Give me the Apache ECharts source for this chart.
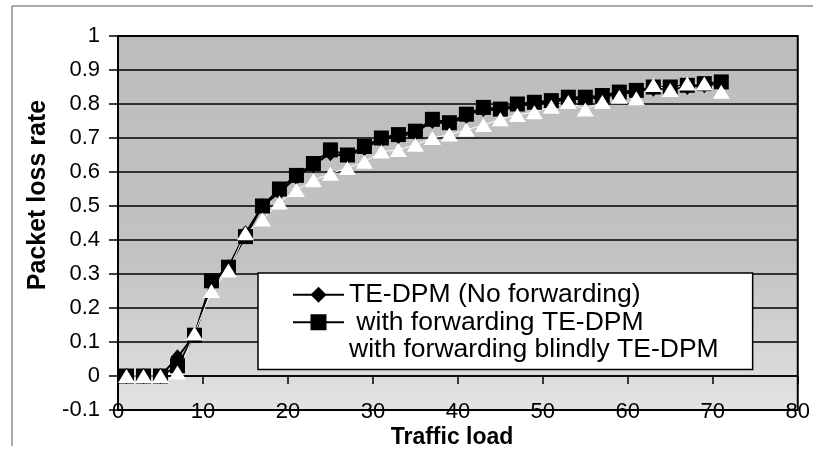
<!DOCTYPE html>
<html><head><meta charset="utf-8">
<script src="https://cdn.jsdelivr.net/npm/echarts@6/dist/echarts.min.js"></script>
<style>html,body{margin:0;padding:0;background:#fff}#c{width:813px;height:459px}</style>
</head><body><div id="c"></div>
<script>
const FONT = '"Liberation Sans", Arial, Helvetica, sans-serif';
const trafficLoad = [1,3,5,7,9,11,13,15,17,19,21,23,25,27,29,31,33,35,37,39,41,43,45,47,49,51,53,55,57,59,61,63,65,67,69,71];
const noForwarding = [0,0,0,0.055,0.12,0.27,0.32,0.42,0.50,0.54,0.585,0.62,0.655,0.645,0.67,0.695,0.705,0.715,0.75,0.74,0.765,0.785,0.78,0.795,0.80,0.805,0.815,0.815,0.82,0.83,0.835,0.845,0.845,0.85,0.855,0.86];
const withForwarding = [0,0,0,0.03,0.12,0.28,0.32,0.41,0.50,0.55,0.59,0.625,0.665,0.65,0.675,0.70,0.71,0.72,0.755,0.745,0.77,0.79,0.785,0.80,0.805,0.81,0.82,0.82,0.825,0.835,0.84,0.85,0.85,0.855,0.86,0.865];
const withForwardingBlindly = [0,0,0,0.01,0.125,0.25,0.31,0.42,0.46,0.51,0.547,0.576,0.595,0.612,0.63,0.66,0.665,0.68,0.70,0.71,0.724,0.738,0.755,0.768,0.776,0.792,0.806,0.784,0.806,0.821,0.817,0.856,0.841,0.86,0.86,0.836];
const seriesNames = ['TE-DPM (No forwarding)', ' with forwarding TE-DPM', 'with forwarding blindly TE-DPM'];
const xTitle = 'Traffic load';
const yTitle = 'Packet loss rate';

const pairs = arr => trafficLoad.map((x, i) => [x, arr[i]]);
const chart = echarts.init(document.getElementById('c'), null, {renderer: 'canvas'});
chart.setOption({
  animation: false,
  backgroundColor: '#fff',
  textStyle: {fontFamily: FONT},
  grid: {
    left: 118, right: 9, top: 36, bottom: 49, show: true,
    backgroundColor: {type: 'linear', x: 0, y: 0, x2: 0, y2: 1, colorStops: [
      {offset: 0, color: '#bdbdbd'}, {offset: 0.6, color: '#c2c2c2'}, {offset: 0.8, color: '#d2d2d2'}, {offset: 1, color: '#e4e4e4'}]},
    borderColor: '#000', borderWidth: 2
  },
  legend: {
    orient: 'vertical', left: 258, top: 273,
    backgroundColor: '#fff', borderColor: '#000', borderWidth: 1.5,
    padding: [8, 34, 6, 34],
    itemWidth: 51, itemHeight: 20, itemGap: 0,
    textStyle: {fontSize: 26.5, fontFamily: FONT, color: '#000', lineHeight: 27.5},
    data: seriesNames
  },
  xAxis: [{
    type: 'value', min: 0, max: 80, interval: 10,
    axisLine: {show: true, onZero: true, lineStyle: {color: '#000', width: 1.5}},
    axisTick: {show: true, length: 8, lineStyle: {color: '#000', width: 1.5}},
    axisLabel: {show: false}, splitLine: {show: false}
  }, {
    type: 'value', position: 'bottom', min: 0, max: 80, interval: 10,
    axisLine: {show: false, onZero: false}, axisTick: {show: false},
    axisLabel: {fontSize: 22, margin: -9, color: '#000', fontFamily: FONT},
    splitLine: {show: false}
  }],
  yAxis: {
    type: 'value', min: -0.1, max: 1, interval: 0.1,
    axisLine: {show: true, onZero: false, lineStyle: {color: '#000', width: 2}},
    axisTick: {show: true, length: 9, lineStyle: {color: '#000', width: 1.5}},
    axisLabel: {fontSize: 22, color: '#000', margin: 18, fontFamily: FONT,
      formatter: v => String(Math.round(v * 10) / 10)},
    splitLine: {show: true, lineStyle: {color: '#000', width: 1.5}}
  },
  series: [{
    name: seriesNames[0], type: 'line', data: pairs(noForwarding),
    symbol: 'diamond', symbolSize: [14, 16],
    lineStyle: {color: '#000', width: 2}, itemStyle: {color: '#000'}
  }, {
    name: seriesNames[1], type: 'line', data: pairs(withForwarding),
    symbol: 'rect', symbolSize: 15,
    lineStyle: {color: '#000', width: 2}, itemStyle: {color: '#000'}
  }, {
    name: seriesNames[2], type: 'line', data: pairs(withForwardingBlindly),
    symbol: 'triangle', symbolSize: [17, 14],
    lineStyle: {color: '#fff', width: 1}, itemStyle: {color: '#fff'}
  }],
  graphic: [
    {type: 'text', x: 452, y: 438, style: {text: xTitle, font: 'bold 23px ' + FONT, fill: '#000', align: 'center', verticalAlign: 'middle'}},
    {type: 'text', x: 38, y: 195, rotation: Math.PI / 2, style: {text: yTitle, font: 'bold 25px ' + FONT, fill: '#000', align: 'center', verticalAlign: 'middle'}},
    {type: 'line', shape: {x1: 12, y1: 6, x2: 813, y2: 6}, style: {stroke: '#555', lineWidth: 1}},
    {type: 'line', shape: {x1: 12, y1: 6, x2: 12, y2: 446}, style: {stroke: '#555', lineWidth: 1}}
  ]
});
</script></body></html>
